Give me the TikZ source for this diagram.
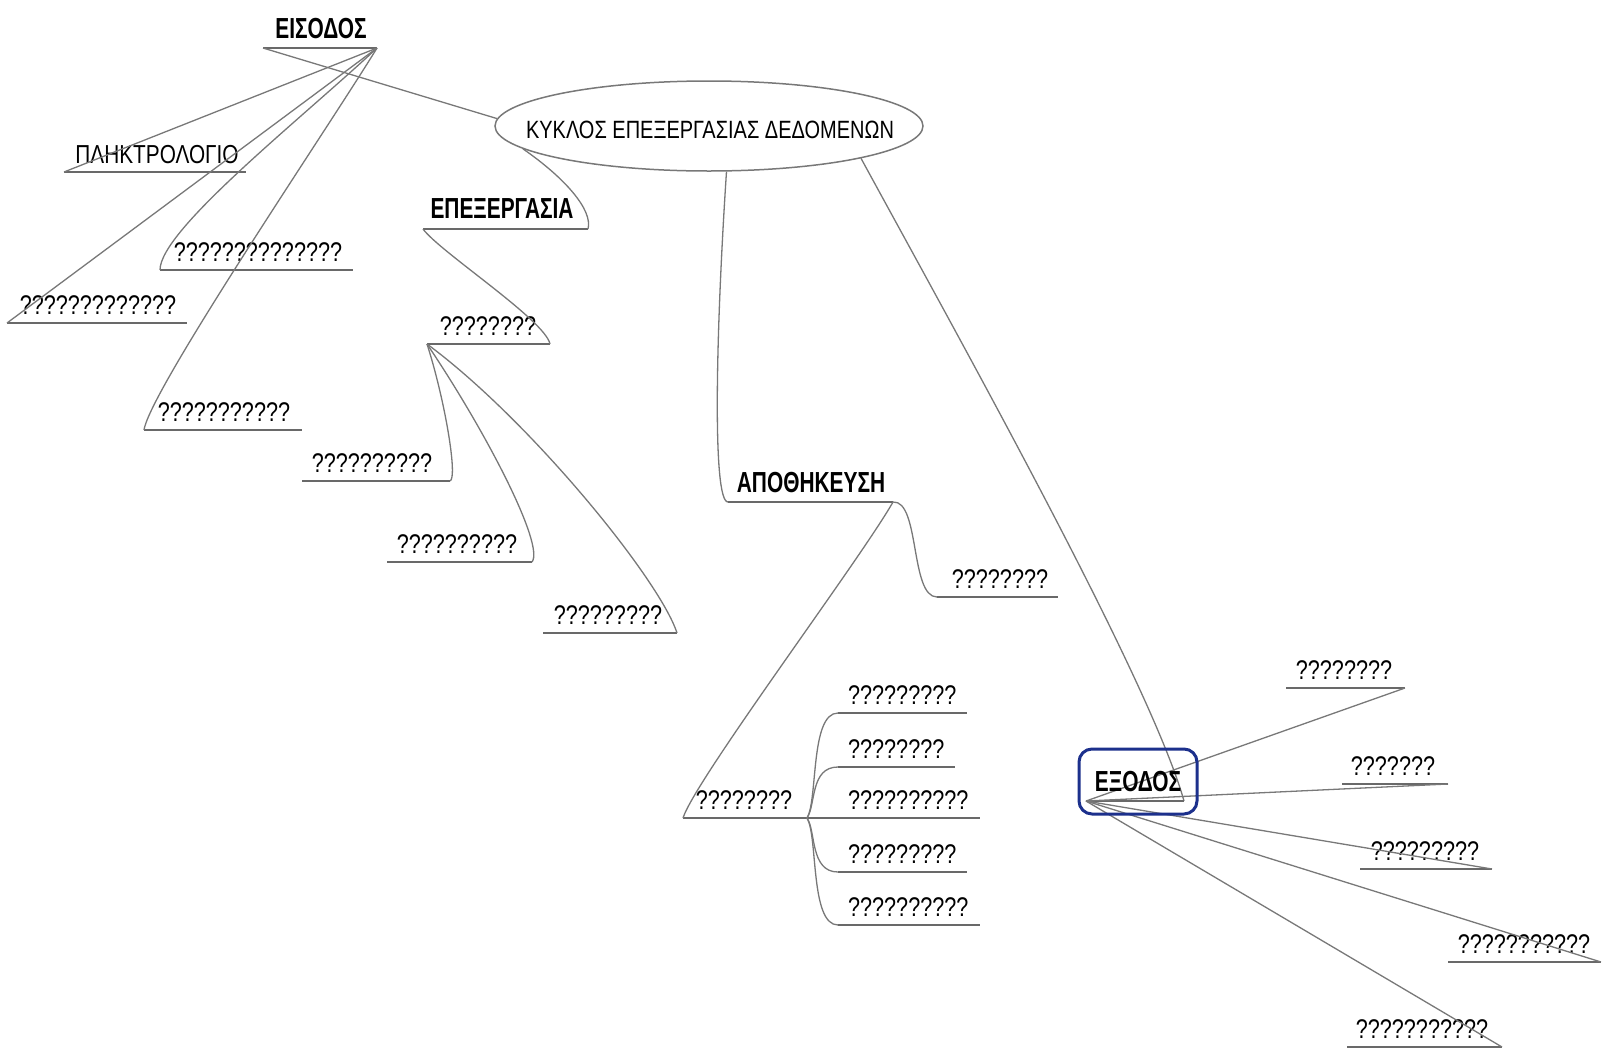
\documentclass[tikz,border=0pt]{standalone}
\usepackage{fontspec}
\setmainfont{Liberation Sans}[FakeStretch=0.8, BoldFeatures={FakeStretch=0.72}]
\usetikzlibrary{shapes.geometric}
\definecolor{linegray}{RGB}{120,120,120}
\definecolor{ulgray}{RGB}{105,105,105}
\definecolor{boxblue}{RGB}{28,48,140}
\begin{document}
\begin{tikzpicture}[x=1pt,y=-1pt,
  lbl/.style={anchor=base, inner sep=0pt, font=\fontsize{27}{30}\selectfont},
  lblw/.style={anchor=base west, inner sep=0pt, font=\fontsize{27}{30}\selectfont},
  blbl/.style={anchor=base, inner sep=0pt, font=\fontsize{29}{30}\selectfont\bfseries},
  conn/.style={draw=linegray, line width=1.3pt},
  uline/.style={draw=ulgray, line width=2.2pt},
]
\useasboundingbox (0,0) rectangle (1604,1053);

% central ellipse
\node[ellipse, draw=linegray, line width=1.5pt, minimum width=428pt, minimum height=90pt, inner sep=0pt] (cyc) at (709,126) {};
\node[anchor=base, inner sep=0pt, font=\fontsize{25}{28}\selectfont] (cyct) at (710,138) {ΚΥΚΛΟΣ ΕΠΕΞΕΡΓΑΣΙΑΣ ΔΕΔΟΜΕΝΩΝ};

% ---------- ΕΙΣΟΔΟΣ ----------
\coordinate (inL) at (263,48); \coordinate (inR) at (377,48);
\node[blbl] (tin) at (321,38) {ΕΙΣΟΔΟΣ};
\draw[uline] (inL) -- (inR);
\draw[conn] (cyc.178) -- (inL);

\coordinate (kbL) at (64,172); \coordinate (kbR) at (246,172);
\node[lbl, font=\fontsize{26}{30}\selectfont] (tkb) at (157,163) {ΠΛΗΚΤΡΟΛΟΓΙΟ};
\draw[uline] (kbL) -- (kbR);
\draw[conn] (inR) -- (kbL);

\coordinate (iaL) at (160,270); \coordinate (iaR) at (353,270);
\node[lbl] (tia) at (258,261) {??????????????};
\draw[uline] (iaL) -- (iaR);
\draw[conn] (inR) .. controls (300,120) and (160,230) .. (iaL);

\coordinate (ibL) at (7,323); \coordinate (ibR) at (187,323);
\node[lbl] (tib) at (98,314) {?????????????};
\draw[uline] (ibL) -- (ibR);
\draw[conn] (inR) -- (ibL);

\coordinate (icL) at (144,430); \coordinate (icR) at (302,430);
\node[lbl] (tic) at (224,421) {???????????};
\draw[uline] (icL) -- (icR);
\draw[conn] (inR) .. controls (330,125) and (150,390) .. (icL);

% ---------- ΕΠΕΞΕΡΓΑΣΙΑ ----------
\coordinate (prL) at (423,229); \coordinate (prR) at (588,229);
\node[blbl] (tpr) at (502,218) {ΕΠΕΞΕΡΓΑΣΙΑ};
\draw[uline] (prL) -- (prR);
\draw[conn] (cyc.187) .. controls (565,178) and (593,210) .. (prR);

\coordinate (paL) at (427,344); \coordinate (paR) at (550,344);
\node[lbl] (tpa) at (488,335) {????????};
\draw[uline] (paL) -- (paR);
\draw[conn] (prL) .. controls (440,252) and (545,320) .. (paR);

\coordinate (qaL) at (302,481); \coordinate (qaR) at (450,481);
\node[lbl] (tqa) at (372,472) {??????????};
\draw[uline] (qaL) -- (qaR);
\draw[conn] (paL) .. controls (445,400) and (458,478) .. (qaR);

\coordinate (qbL) at (387,562); \coordinate (qbR) at (532,562);
\node[lbl] (tqb) at (457,553) {??????????};
\draw[uline] (qbL) -- (qbR);
\draw[conn] (paL) .. controls (485,430) and (545,545) .. (qbR);

\coordinate (qcL) at (543,633); \coordinate (qcR) at (677,633);
\node[lbl] (tqc) at (608,624) {?????????};
\draw[uline] (qcL) -- (qcR);
\draw[conn] (paL) .. controls (530,420) and (660,580) .. (qcR);

% ---------- ΑΠΟΘΗΚΕΥΣΗ ----------
\coordinate (stL) at (728,502); \coordinate (stR) at (893,502);
\node[blbl] (tst) at (811,492) {ΑΠΟΘΗΚΕΥΣΗ};
\draw[uline] (stL) -- (stR);
\draw[conn] (cyc.291) .. controls (716,330) and (712,502) .. (stL);

\coordinate (saL) at (937,597); \coordinate (saR) at (1058,597);
\node[lbl] (tsa) at (1000,588) {????????};
\draw[uline] (saL) -- (saR);
\draw[conn] (stR) .. controls (920,500) and (910,597) .. (saL);

\coordinate (sbL) at (683,818); \coordinate (sbR) at (807,818);
\node[lbl] (tsb) at (744,809) {????????};
\draw[uline] (sbL) -- (sbR);
\draw[conn] (stR) .. controls (860,560) and (695,780) .. (sbL);

\coordinate (s1L) at (838,713); \coordinate (s1R) at (967,713);
\coordinate (s2L) at (838,767); \coordinate (s2R) at (955,767);
\coordinate (s3R) at (980,818);
\coordinate (s4L) at (838,872); \coordinate (s4R) at (967,872);
\coordinate (s5L) at (838,925); \coordinate (s5R) at (980,925);
\node[lblw] (ts1) at (848,704) {?????????};
\node[lblw] (ts2) at (848,758) {????????};
\node[lblw] (ts3) at (848,809) {??????????};
\node[lblw] (ts4) at (848,863) {?????????};
\node[lblw] (ts5) at (848,916) {??????????};
\draw[uline] (s1L) -- (s1R);
\draw[uline] (s2L) -- (s2R);
\draw[uline] (sbR) -- (s3R);
\draw[uline] (s4L) -- (s4R);
\draw[uline] (s5L) -- (s5R);
\draw[conn] (sbR) .. controls (818,800) and (810,713) .. (s1L);
\draw[conn] (sbR) .. controls (816,805) and (810,767) .. (s2L);
\draw[conn] (sbR) .. controls (816,831) and (810,872) .. (s4L);
\draw[conn] (sbR) .. controls (818,836) and (810,925) .. (s5L);

% ---------- ΕΞΟΔΟΣ ----------
\coordinate (oL) at (1086,801); \coordinate (oR) at (1184,801);
\draw[conn] (cyc.348) .. controls (960,340) and (1150,680) .. (oR);
\draw[uline] (oL) -- (oR);

\coordinate (o1L) at (1286,688); \coordinate (o1R) at (1405,688);
\coordinate (o2L) at (1342,784); \coordinate (o2R) at (1448,784);
\coordinate (o3L) at (1360,869); \coordinate (o3R) at (1492,869);
\coordinate (o4L) at (1448,962); \coordinate (o4R) at (1601,962);
\coordinate (o5L) at (1347,1047); \coordinate (o5R) at (1502,1047);
\node[lbl] (to1) at (1344,679) {????????};
\node[lbl] (to2) at (1393,775) {???????};
\node[lbl] (to3) at (1425,860) {?????????};
\node[lbl] (to4) at (1524,953) {???????????};
\node[lbl] (to5) at (1422,1038) {???????????};
\foreach \i in {1,...,5} {
  \draw[uline] (o\i L) -- (o\i R);
  \draw[conn] (oL) -- (o\i R);
}

\node[draw=boxblue, line width=3pt, rounded corners=13pt, minimum width=118pt, minimum height=65pt, inner sep=0pt, font=\fontsize{29}{30}\selectfont\bfseries] (out) at (1138,781.5) {ΕΞΟΔΟΣ};
\end{tikzpicture}
\end{document}
